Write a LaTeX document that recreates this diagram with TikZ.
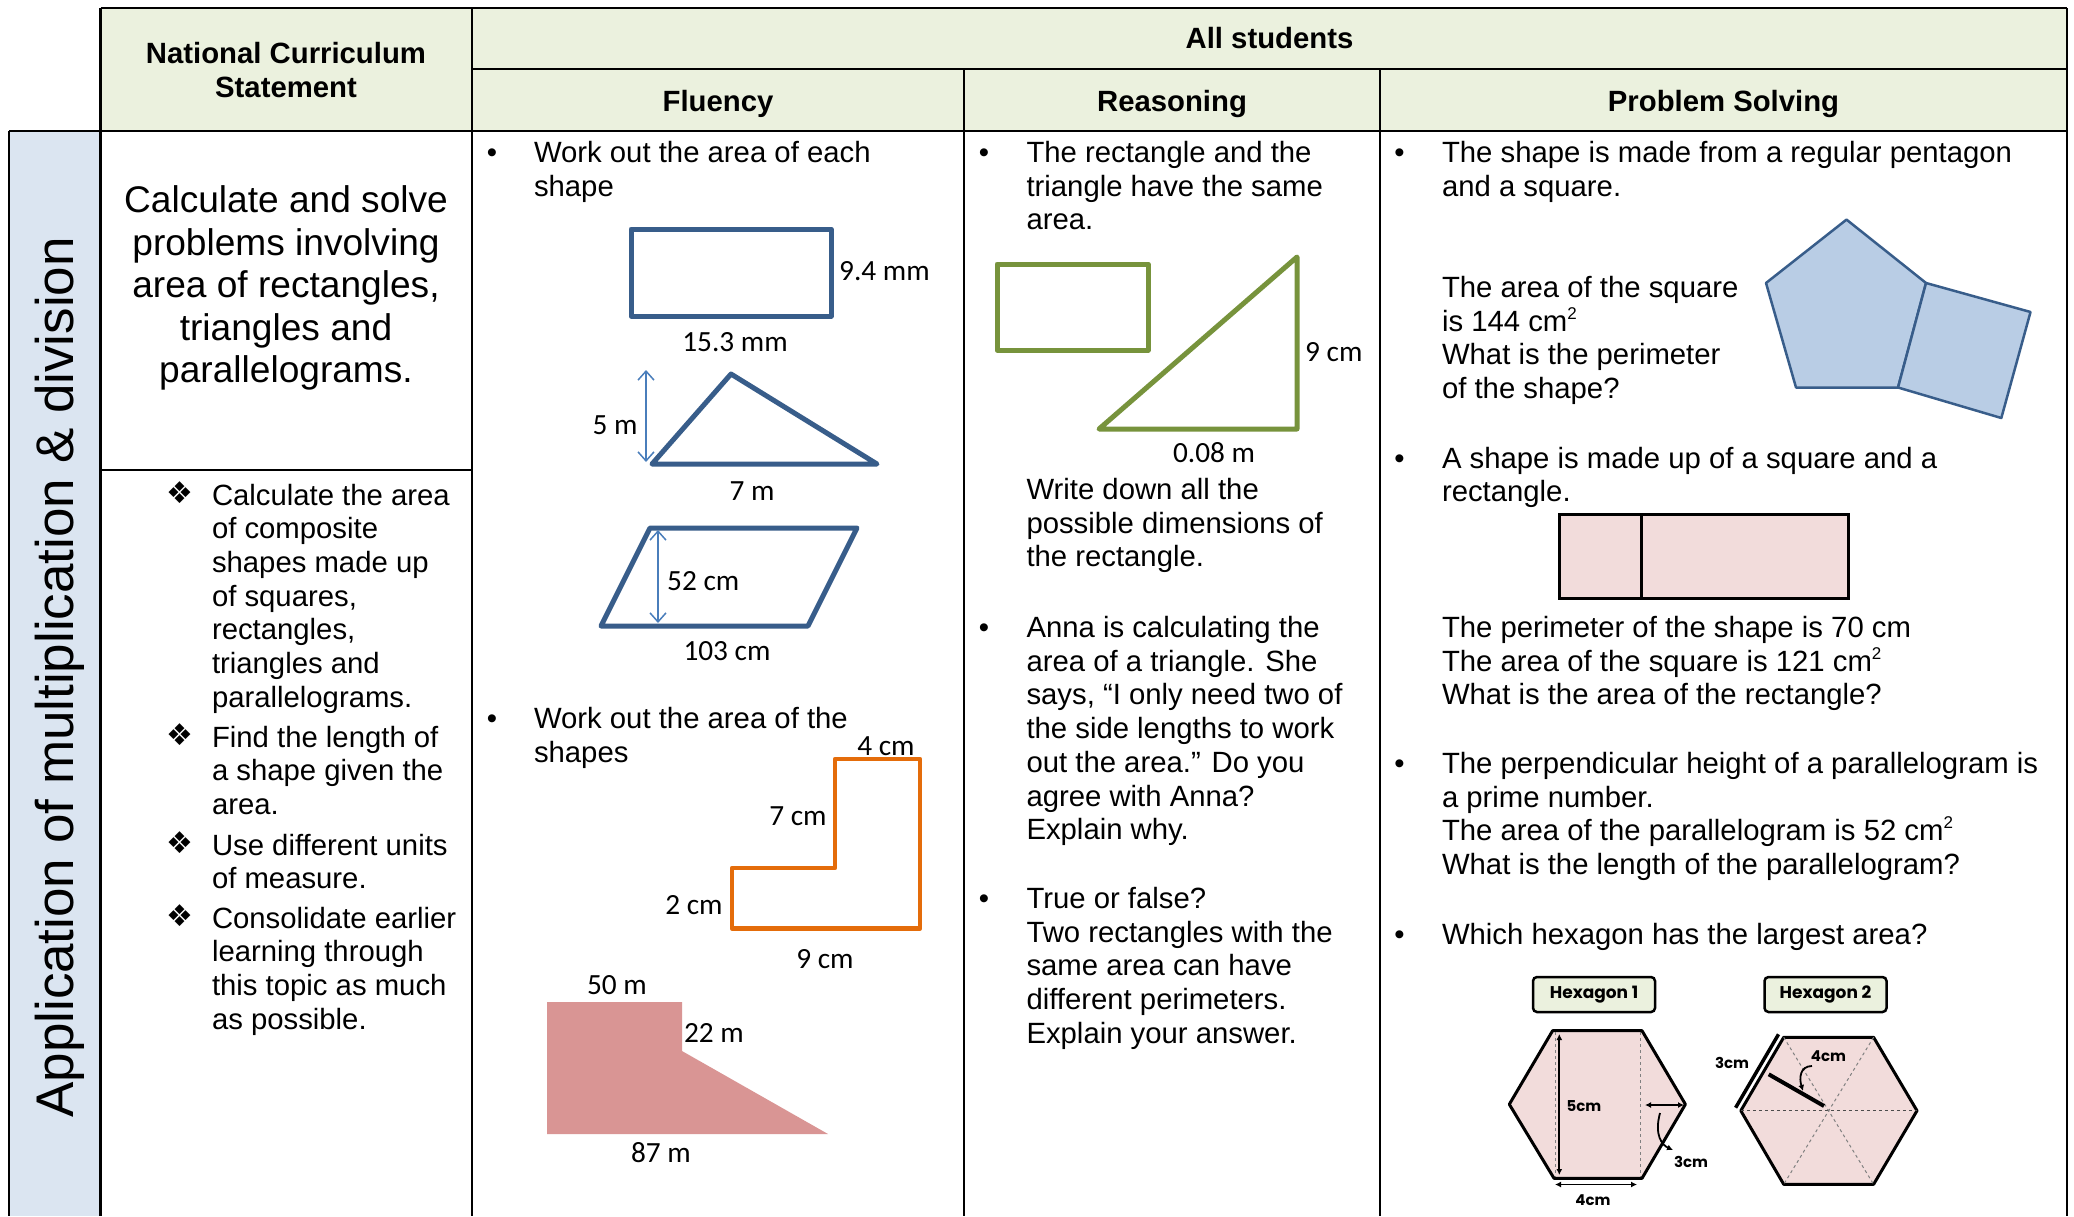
\documentclass[tikz,border=0pt]{standalone}
\usepackage{fontspec}
\setmainfont{Liberation Sans}
\newfontfamily\calib{Carlito}
\newfontfamily\dejav{DejaVu Sans}
\newfontfamily\hexf{Poppins}
\usetikzlibrary{arrows.meta}
\definecolor{hdrgreen}{HTML}{EBF1DE}
\definecolor{colblue}{HTML}{DBE5F1}
\definecolor{shpblue}{HTML}{385D8A}
\definecolor{arrblue}{HTML}{4A7EBB}
\definecolor{shporange}{HTML}{E46C0A}
\definecolor{shpgreen}{HTML}{77933C}
\definecolor{pinkfill}{HTML}{F2DCDB}
\definecolor{rosefill}{HTML}{D99594}
\definecolor{pentfill}{HTML}{B9CDE5}
\newcommand{\bodyfont}{\fontsize{29.3}{33.7}\selectfont}
\newcommand{\ptext}[2]{\parbox[t]{#1pt}{\raggedright\bodyfont #2}}
\newcommand{\sqr}{\raisebox{12pt}{\fontsize{17}{17}\selectfont 2}}
\begin{document}
\begin{tikzpicture}[x=1pt,y=-1pt,
  grid/.style={line width=2.6pt, black},
  txt/.style={anchor=base west, inner sep=0pt, outer sep=0pt},
  bul/.style={anchor=base, inner sep=0pt, font=\bodyfont},
  dia/.style={anchor=base, inner sep=0pt, font=\dejav\fontsize{30}{34}\selectfont},
  lbl/.style={anchor=base, inner sep=0pt, font=\calib\fontsize{29.3}{33.7}\selectfont},
  lblw/.style={lbl, anchor=base west},
  hdr/.style={inner sep=0pt, font=\bfseries\bodyfont, align=center},
  bshape/.style={draw=shpblue, line width=5pt, line join=round},
  harrow/.style={draw=arrblue, line width=1.5pt, >={Straight Barb[length=9pt,width=16pt]}, <->},
  hexbox/.style={draw=black, fill=hdrgreen, rounded corners=4pt, line width=2.5pt,
     minimum width=122pt, minimum height=35pt, inner sep=0pt,
     font=\hexf\bfseries\fontsize{17}{20}\selectfont},
  hexlbl/.style={inner sep=0pt, font=\hexf\bfseries\fontsize{15}{18}\selectfont},
  hexshape/.style={draw=black, fill=pinkfill, line width=3pt, line join=round},
  karrow/.style={black, line width=1.8pt, >={Latex[length=6pt,width=6pt]}}
]
\useasboundingbox (0,0) rectangle (2074,1216);
\fill[white] (0,0) rectangle (2074,1216);
% backgrounds
\fill[hdrgreen] (100.5,8) rectangle (2067,131);
\fill[colblue] (9,131) rectangle (100.5,1216);
% grid
\draw[grid] (100.5,8) -- (2067,8);
\draw[grid] (472,69) -- (2067,69);
\draw[grid] (9,131) -- (2067,131);
\draw[grid] (100.5,470) -- (472,470);
\draw[grid] (9,131) -- (9,1216);
\draw[grid] (100.5,8) -- (100.5,1216);
\draw[grid] (472,8) -- (472,1216);
\draw[grid] (964,69) -- (964,1216);
\draw[grid] (1380,69) -- (1380,1216);
\draw[grid] (2067,8) -- (2067,1216);
% headers
\node[hdr] (hncs) at (286,70) {National Curriculum\\Statement};
\node[hdr] (hall) at (1269.5,38.5) {All students};
\node[hdr] (hflu) at (718,103.5) {Fluency};
\node[hdr] (hrea) at (1172,103.5) {Reasoning};
\node[hdr] (hps) at (1723.5,103.5) {Problem Solving};
% left rotated
\node[rotate=90, anchor=base west, inner sep=0pt, font=\fontsize{53}{60}\selectfont] (side) at (73,1118) {Application of multiplication \& division};
% NCS
\node[anchor=base, inner sep=0pt] (ncs) at (286,212.5) {\parbox[t]{360pt}{\centering\fontsize{37.1}{42.5}\selectfont Calculate and solve\\problems involving\\area of rectangles,\\triangles and\\parallelograms.}};
\node[dia] (d1) at (180,503) {❖};
\node[txt] (n1) at (212,505) {\ptext{250}{Calculate the area\\of composite\\shapes made up\\of squares,\\rectangles,\\triangles and\\parallelograms.}};
\node[dia] (d2) at (180,745) {❖};
\node[txt] (n2) at (212,747) {\ptext{250}{Find the length of\\a shape given the\\area.}};
\node[dia] (d3) at (180,853) {❖};
\node[txt] (n3) at (212,855) {\ptext{250}{Use different units\\of measure.}};
\node[dia] (d4) at (180,926) {❖};
\node[txt] (n4) at (212,928) {\ptext{250}{Consolidate earlier\\learning through\\this topic as much\\as possible.}};
% Fluency
\node[bul] (fb1) at (492,162.5) {•};
\node[txt] (ft1) at (534,162.5) {\ptext{420}{Work out the area of each\\shape}};
\draw[bshape] (631,229) rectangle (831,316);
\node[lblw] (l94) at (839,280) {9.4 mm};
\node[lbl] (l153) at (735,351) {15.3 mm};
\draw[bshape] (652,464) -- (731,374) -- (877,464) -- cycle;
\draw[harrow] (646,370) -- (646,462);
\node[lbl] (l5) at (615,434) {5 m};
\node[lbl] (l7) at (752,500) {7 m};
\draw[bshape] (650,528) -- (857,528) -- (808,626) -- (601,626) -- cycle;
\draw[harrow] (658,530) -- (658,623);
\node[lblw] (l52) at (667,590) {52 cm};
\node[lbl] (l103) at (727,660) {103 cm};
\node[bul] (fb2) at (492,728.5) {•};
\node[txt] (ft2) at (534,728.5) {\ptext{420}{Work out the area of the\\shapes}};
\draw[draw=shporange, line width=4.5pt, line join=round] (835,759) -- (920,759) -- (920,928.5) -- (732,928.5) -- (732,868) -- (835,868) -- cycle;
\node[lbl] (l4c) at (886,755) {4 cm};
\node[lbl] (l7c) at (798,825) {7 cm};
\node[lbl] (l2c) at (694,914) {2 cm};
\node[lbl] (l9c) at (825,968) {9 cm};
\fill[rosefill] (547,1002) -- (682,1002) -- (682,1051) -- (828,1134) -- (547,1134) -- cycle;
\node[lbl] (l50) at (617,994) {50 m};
\node[lbl] (l22) at (714,1042) {22 m};
\node[lbl] (l87) at (661,1162) {87 m};
% Reasoning
\node[bul] (rb1) at (984,162.5) {•};
\node[txt] (rt1) at (1026.5,162.5) {\ptext{400}{The rectangle and the\\triangle have the same\\area.}};
\draw[draw=shpgreen, line width=5pt, line join=round] (997,264) rectangle (1148,350);
\draw[draw=shpgreen, line width=5pt, line join=round] (1099,429) -- (1297,429) -- (1297,257) -- cycle;
\node[lblw] (l9r) at (1305,361) {9 cm};
\node[lbl] (l008) at (1214,462) {0.08 m};
\node[txt] (rt2) at (1026.5,499.5) {\ptext{400}{Write down all the\\possible dimensions of\\the rectangle.}};
\node[bul] (rb2) at (984,637.5) {•};
\node[txt] (rt3) at (1026.5,637.5) {\ptext{400}{Anna is calculating the\\area of a triangle. She\\says, “I only need two of\\the side lengths to work\\out the area.” Do you\\agree with Anna?\\Explain why.}};
\node[bul] (rb3) at (984,908.5) {•};
\node[txt] (rt4) at (1026.5,908.5) {\ptext{400}{True or false?\\Two rectangles with the\\same area can have\\different perimeters.\\Explain your answer.}};
% Problem solving
\node[bul] (pb1) at (1399.5,162.5) {•};
\node[txt] (pt1) at (1442,162.5) {\ptext{640}{The shape is made from a regular pentagon\\and a square.}};
\node[txt] (pt2) at (1442,297.5) {\ptext{400}{The area of the square\\is 144 cm\sqr\\What is the perimeter\\of the shape?}};
\draw[fill=pentfill, draw=shpblue, line width=2.5pt, line join=round] (1846.5,219.6) -- (1926,283) -- (1898,387.5) -- (1796,387.5) -- (1766,283) -- cycle;
\draw[fill=pentfill, draw=shpblue, line width=2.5pt, line join=round] (1926,283) -- (2030.5,312) -- (2001.3,418) -- (1898,387.5) -- cycle;
\node[bul] (pb2) at (1399.5,468) {•};
\node[txt] (pt3) at (1442,468) {\ptext{640}{A shape is made up of a square and a\\rectangle.}};
\draw[fill=pinkfill, draw=black, line width=3pt] (1559.5,514.5) rectangle (1848,598);
\draw[black, line width=3pt] (1641.5,514.5) -- (1641.5,598);
\node[txt] (pt4) at (1442,637.5) {\ptext{640}{The perimeter of the shape is 70 cm\\The area of the square is 121 cm\sqr\\What is the area of the rectangle?}};
\node[bul] (pb3) at (1399.5,773.5) {•};
\node[txt] (pt5) at (1442,773.5) {\ptext{640}{The perpendicular height of a parallelogram is\\a prime number.\\The area of the parallelogram is 52 cm\sqr\\What is the length of the parallelogram?}};
\node[bul] (pb4) at (1399.5,944.5) {•};
\node[txt] (pt6) at (1442,944.5) {\ptext{640}{Which hexagon has the largest area?}};
% hexagons
\node[hexbox] (hx1) at (1594,994.5) {Hexagon 1};
\node[hexbox] (hx2) at (1825.5,994.5) {Hexagon 2};
\draw[hexshape] (1552.6,1030.7) -- (1642,1030.7) -- (1685.4,1104.3) -- (1642,1178.3) -- (1554,1178.3) -- (1509.3,1104.3) -- cycle;
\draw[gray, dashed, line width=1pt] (1555,1032) -- (1555,1177);
\draw[gray, dashed, line width=1pt] (1640,1032) -- (1640,1177);
\draw[karrow, <->] (1559.3,1034) -- (1559.3,1175);
\node[hexlbl] (h5) at (1584,1106) {5cm};
\draw[karrow, <->] (1645,1105) -- (1684,1105);
\draw[karrow, ->] (1660,1113) .. controls (1654,1135) and (1662,1145) .. (1673,1150);
\node[hexlbl] (h3a) at (1691,1162) {3cm};
\draw[karrow, <->] (1555,1184.5) -- (1637,1184.5);
\node[hexlbl] (h4a) at (1593,1200) {4cm};
\draw[hexshape] (1783.7,1037.3) -- (1873.6,1037.3) -- (1917,1110.7) -- (1873.6,1184.3) -- (1783.7,1184.3) -- (1740.8,1110.7) -- cycle;
\draw[black!70, dashed, line width=1.5pt] (1740.8,1110.7) -- (1917,1110.7);
\draw[gray, dashed, line width=1pt] (1783.7,1037.3) -- (1873.6,1184.3);
\draw[gray, dashed, line width=1pt] (1873.6,1037.3) -- (1783.7,1184.3);
\draw[black, line width=3.5pt] (1778.5,1034.3) -- (1735.6,1107.7);
\node[hexlbl] (h3b) at (1732,1063) {3cm};
\draw[black, line width=4pt] (1768.7,1074.3) -- (1824,1106);
\node[hexlbl] (h4b) at (1828.5,1056) {4cm};
\draw[karrow, ->] (1812,1066) .. controls (1800,1066) and (1799,1078) .. (1803,1091);
\end{tikzpicture}
\end{document}
